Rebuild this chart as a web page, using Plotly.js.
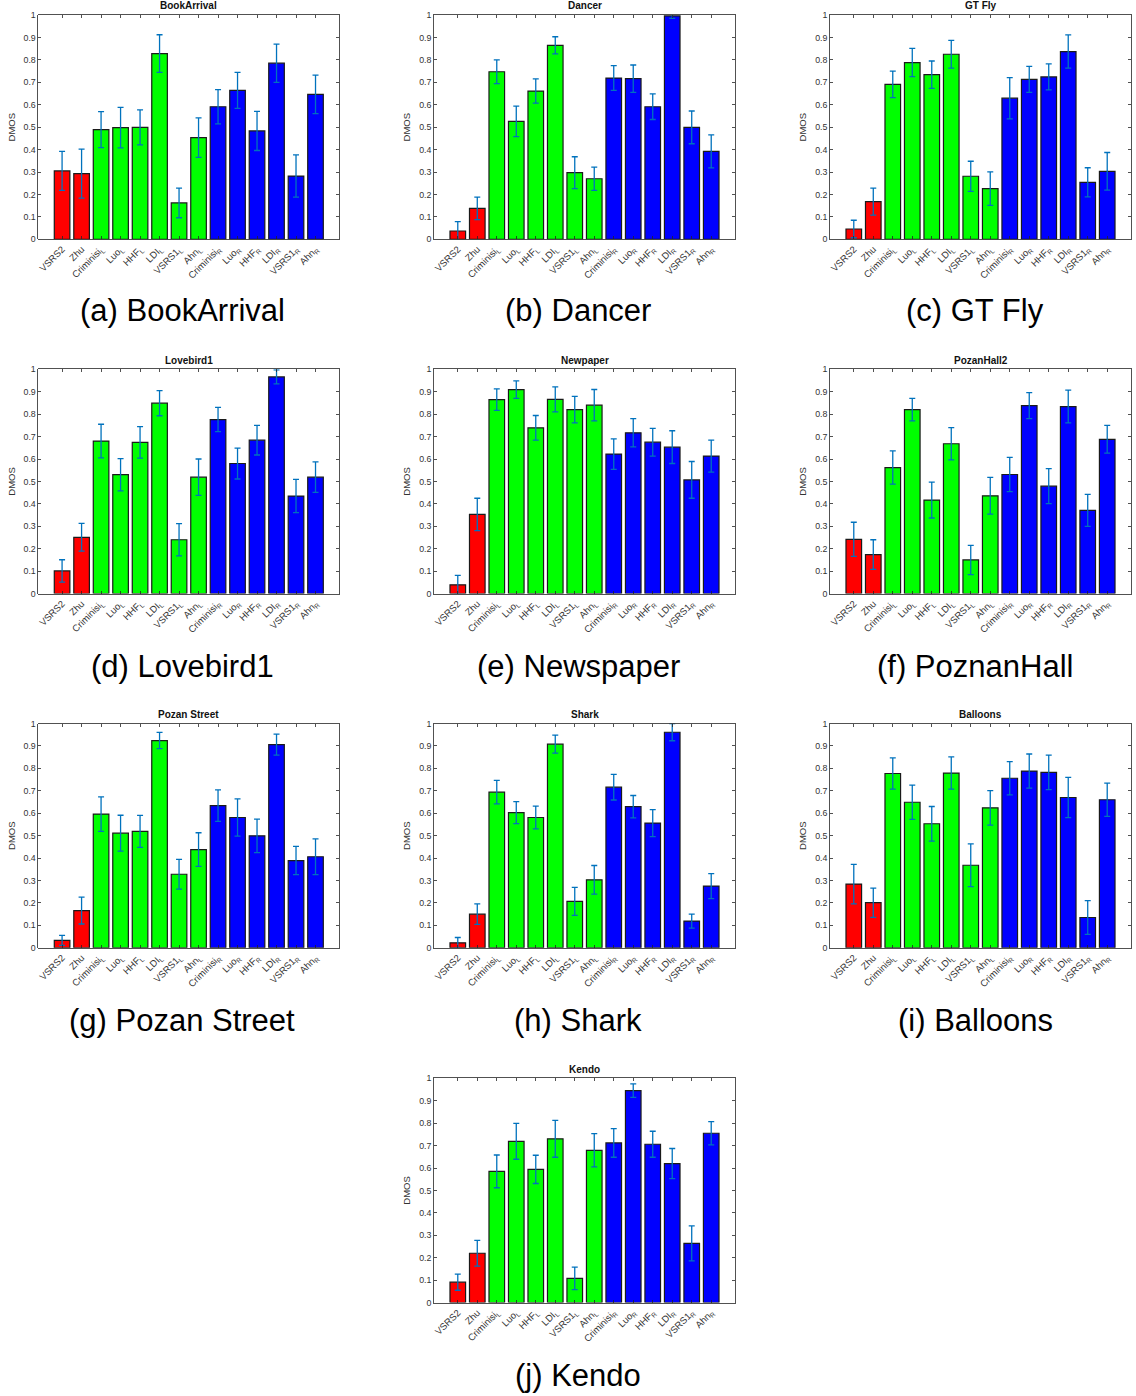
<!DOCTYPE html>
<html>
<head>
<meta charset="utf-8">
<script src="https://cdn.plot.ly/plotly-3.0.1.min.js"></script>
<style>html,body{margin:0;padding:0;background:#fff;}#chart{width:1136px;height:1396px;}</style>
</head>
<body>
<div id="chart"></div>
<script>
// ---------------- DATA ----------------
const categories = ['VSRS2','Zhu','Criminisi<sub>L</sub>','Luo<sub>L</sub>','HHF<sub>L</sub>','LDI<sub>L</sub>','VSRS1<sub>L</sub>','Ahn<sub>L</sub>',
  'Criminisi<sub>R</sub>','Luo<sub>R</sub>','HHF<sub>R</sub>','LDI<sub>R</sub>','VSRS1<sub>R</sub>','Ahn<sub>R</sub>'];
const yTickVals = [0,0.1,0.2,0.3,0.4,0.5,0.6,0.7,0.8,0.9,1];
const yTickText = ['0','0.1','0.2','0.3','0.4','0.5','0.6','0.7','0.8','0.9','1'];
const yAxisLabel = 'DMOS';

const panelTitles = ['BookArrival','Dancer','GT Fly','Lovebird1','Newpaper','PozanHall2','Pozan Street','Shark','Balloons','Kendo'];
const panelCaptions = ['(a) BookArrival','(b) Dancer','(c) GT Fly','(d) Lovebird1','(e) Newspaper','(f) PoznanHall','(g) Pozan Street','(h) Shark','(i) Balloons','(j) Kendo'];

const bookArrivalDMOS = [0.305,0.293,0.489,0.498,0.499,0.828,0.162,0.453,0.591,0.664,0.483,0.785,0.282,0.646];
const bookArrivalErr  = [0.087,0.109,0.080,0.090,0.078,0.084,0.066,0.088,0.076,0.080,0.087,0.085,0.094,0.086];
const dancerDMOS = [0.037,0.138,0.747,0.526,0.661,0.865,0.297,0.270,0.719,0.716,0.591,0.996,0.499,0.392];
const dancerErr  = [0.042,0.050,0.053,0.068,0.054,0.038,0.071,0.052,0.055,0.061,0.057,0.011,0.073,0.074];
const gtFlyDMOS = [0.046,0.168,0.691,0.788,0.734,0.825,0.281,0.226,0.629,0.713,0.724,0.837,0.254,0.303];
const gtFlyErr  = [0.039,0.060,0.059,0.063,0.061,0.062,0.067,0.075,0.092,0.058,0.058,0.074,0.065,0.084];
const lovebird1DMOS = [0.101,0.251,0.680,0.530,0.674,0.849,0.240,0.519,0.776,0.580,0.684,0.966,0.435,0.519];
const lovebird1Err  = [0.050,0.062,0.075,0.072,0.070,0.056,0.072,0.081,0.054,0.069,0.066,0.031,0.074,0.068];
const newspaperDMOS = [0.039,0.353,0.865,0.909,0.739,0.866,0.820,0.840,0.622,0.717,0.675,0.653,0.507,0.613];
const newspaperErr  = [0.042,0.072,0.048,0.039,0.055,0.056,0.059,0.070,0.068,0.063,0.062,0.073,0.082,0.071];
const poznanHallDMOS = [0.242,0.174,0.562,0.820,0.417,0.668,0.150,0.436,0.531,0.838,0.479,0.834,0.371,0.688];
const poznanHallErr  = [0.076,0.066,0.074,0.050,0.080,0.072,0.065,0.082,0.076,0.058,0.078,0.073,0.071,0.062];
const poznanStreetDMOS = [0.033,0.166,0.596,0.511,0.519,0.924,0.328,0.438,0.634,0.581,0.499,0.906,0.389,0.406];
const poznanStreetErr  = [0.022,0.060,0.077,0.080,0.071,0.036,0.066,0.075,0.070,0.083,0.075,0.047,0.063,0.080];
const sharkDMOS = [0.022,0.150,0.694,0.603,0.581,0.908,0.207,0.303,0.716,0.629,0.556,0.961,0.119,0.275];
const sharkErr  = [0.024,0.046,0.052,0.049,0.051,0.040,0.062,0.064,0.057,0.050,0.060,0.038,0.031,0.056];
const balloonsDMOS = [0.284,0.201,0.777,0.649,0.553,0.779,0.368,0.624,0.756,0.788,0.782,0.670,0.135,0.660];
const balloonsErr  = [0.088,0.065,0.070,0.076,0.077,0.072,0.095,0.077,0.074,0.076,0.077,0.090,0.075,0.074];
const kendoDMOS = [0.091,0.220,0.585,0.719,0.594,0.730,0.108,0.679,0.712,0.945,0.706,0.620,0.264,0.755];
const kendoErr  = [0.036,0.057,0.073,0.080,0.063,0.082,0.050,0.074,0.064,0.030,0.058,0.067,0.078,0.052];

const panelValues = [bookArrivalDMOS,dancerDMOS,gtFlyDMOS,lovebird1DMOS,newspaperDMOS,poznanHallDMOS,poznanStreetDMOS,sharkDMOS,balloonsDMOS,kendoDMOS];
const panelErrors = [bookArrivalErr,dancerErr,gtFlyErr,lovebird1Err,newspaperErr,poznanHallErr,poznanStreetErr,sharkErr,balloonsErr,kendoErr];

// ---------------- LAYOUT / STYLE ----------------
const W = 1136, H = 1396;
const colLeft = [38.3, 434, 830];
const plotW = 301;
const rowTop = [15, 369.3, 723.5, 1078.3];
const plotH = 224.3;
const captionY = [311, 666, 1020, 1375];
const captionX = [182, 578, 975];
const panelPos = [[0,0],[0,1],[0,2],[1,0],[1,1],[1,2],[2,0],[2,1],[2,2],[3,1]];

function barColor(i){ return i < 2 ? '#ff0000' : (i < 8 ? '#00ff00' : '#0000ff'); }

const FONT = 'Liberation Sans, Arial, Helvetica, sans-serif';
const AX = '#262626';
const data = [];
const layout = {
  width: W, height: H,
  margin: {l:0, r:0, t:0, b:0},
  paper_bgcolor: '#fff', plot_bgcolor: '#fff',
  showlegend: false,
  font: {family: FONT, color: AX, size: 9},
  annotations: []
};

panelValues.forEach((vals, p) => {
  const [r, c] = panelPos[p];
  const k = p === 0 ? '' : String(p + 1);
  const x0 = colLeft[c], y0 = rowTop[r];
  data.push({
    type: 'bar',
    x: categories,
    y: vals,
    width: 0.8,
    xaxis: 'x' + k, yaxis: 'y' + k,
    marker: {color: vals.map((v, i) => barColor(i)), line: {color: '#1a1a1a', width: 1.2}},
    error_y: {type: 'data', array: panelErrors[p], visible: true, color: '#0072BD', thickness: 1.3, width: 3},
    hoverinfo: 'x+y'
  });
  layout['xaxis' + k] = {
    domain: [x0 / W, (x0 + plotW) / W],
    anchor: 'y' + k,
    type: 'category',
    range: [-1.22, 14.22],
    tickangle: -45,
    tickfont: {size: 9.5, family: FONT, color: '#333'},
    ticks: 'inside', ticklen: 3, tickcolor: AX, tickwidth: 0.8,
    showline: true, linecolor: AX, linewidth: 0.8, mirror: 'ticks',
    showgrid: false, zeroline: false, fixedrange: true
  };
  layout['yaxis' + k] = {
    domain: [1 - (y0 + plotH) / H, 1 - y0 / H],
    anchor: 'x' + k,
    range: [0, 1],
    tickvals: yTickVals, ticktext: yTickText,
    tickfont: {size: 8.8, family: FONT, color: '#333'},
    ticks: 'inside', ticklen: 3, tickcolor: AX, tickwidth: 0.8,
    showline: true, linecolor: AX, linewidth: 0.8, mirror: 'ticks',
    showgrid: false, zeroline: false, fixedrange: true,
    title: {text: yAxisLabel, font: {size: 9.5, family: FONT, color: '#333'}, standoff: 6}
  };
  layout.annotations.push({
    xref: 'paper', yref: 'paper',
    x: (x0 + plotW / 2) / W, y: 1 - (y0 - 1.5) / H,
    xanchor: 'center', yanchor: 'bottom',
    text: '<b>' + panelTitles[p] + '</b>', showarrow: false,
    font: {size: 10, family: FONT, color: '#111'}
  });
  layout.annotations.push({
    xref: 'paper', yref: 'paper',
    x: captionX[c] / W, y: 1 - captionY[r] / H,
    xanchor: 'center', yanchor: 'middle',
    text: panelCaptions[p], showarrow: false,
    font: {size: 31, family: FONT, color: '#000'}
  });
});

Plotly.newPlot('chart', data, layout, {staticPlot: true});
</script>
</body>
</html>
